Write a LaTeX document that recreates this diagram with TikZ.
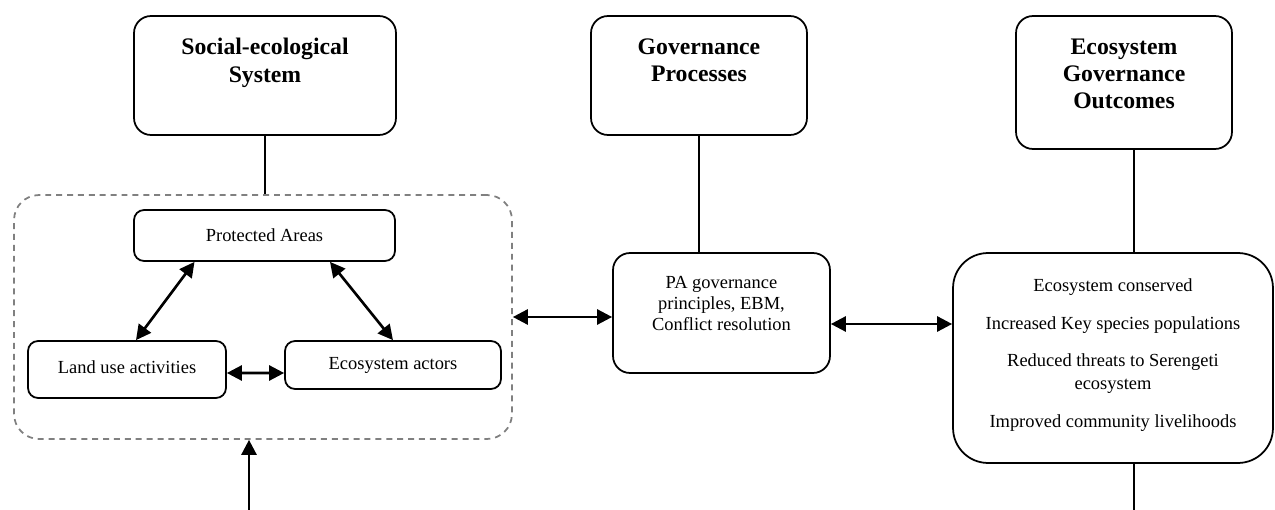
\documentclass[tikz,border=0pt]{standalone}
\usepackage{fontspec}
\setmainfont{Liberation Serif}
\usetikzlibrary{arrows.meta}
\tikzset{
  headbox/.style={draw, line width=1pt, rounded corners=0.34cm, inner sep=0pt},
  itembox/.style={draw, line width=1pt, rounded corners=0.2cm, inner sep=0pt, align=center, font=\fontsize{10.5}{12}\selectfont},
  groupbox/.style={draw=black!50, line width=1pt, dash pattern=on 3.4pt off 2.8pt, rounded corners=0.5cm},
  headtext/.style={anchor=north, inner sep=0pt, align=center, font=\fontsize{13.5}{15.5}\selectfont\bfseries},
  bodytext/.style={anchor=north, inner sep=0pt, align=center, font=\fontsize{10.5}{11.8}\selectfont},
  joint/.style={line width=1pt},
  twoway/.style={{Triangle[length=0.3cm,width=0.3cm]}-{Triangle[length=0.3cm,width=0.3cm]}, line width=1.5pt},
  oneway/.style={-{Triangle[length=0.3cm,width=0.3cm]}, line width=1.5pt}
}

\begin{document}
\begin{tikzpicture}[x=0.02cm, y=-0.02cm]
		%%%%% START %%%%%
		\useasboundingbox (0,0) rectangle (1275,510);
		
		% top row
		\node[headbox, minimum width=5.24cm, minimum height=2.38cm] (ses) at (265,75.5) {};
		\node[headtext] (sestxt) at ([yshift=-0.46cm]ses.north) {Social-ecological\\System};
		
		\node[headbox, minimum width=4.32cm, minimum height=2.38cm] (gov) at (699,75.5) {};
		\node[headtext] (govtxt) at ([yshift=-0.46cm]gov.north) {Governance\\Processes};
		
		\node[headbox, minimum width=4.32cm, minimum height=2.66cm] (out) at (1124,82.5) {};
		\node[headtext] (outtxt) at ([yshift=-0.46cm]out.north) {Ecosystem\\Governance\\Outcomes};
		
		% system group
		\node[groupbox, minimum width=9.96cm, minimum height=4.88cm] (grp) at (263,317) {};
		\node[itembox, minimum width=5.22cm, minimum height=1.02cm] (prot) at (264.5,235.5) {Protected Areas};
		\node[itembox, minimum width=3.96cm, minimum height=1.14cm] (land) at (127,369.5) {\raisebox{3pt}{Land use activities}};
		\node[itembox, minimum width=4.32cm, minimum height=0.96cm] (eco) at (393,365) {Ecosystem actors};
		
		\draw[twoway] ([xshift=-1.4cm]prot.south) -- ([xshift=0.18cm]land.north);
		\draw[twoway] ([xshift=1.31cm]prot.south) -- (eco.north);
		\draw[twoway] ([yshift=-0.07cm]land.east) -- ([yshift=-0.16cm]eco.west);
		
		% processes
		\node[headbox, minimum width=4.34cm, minimum height=2.4cm] (pag) at (721.5,313) {};
		\node[bodytext] (pagtxt) at ([yshift=-0.48cm]pag.north) {PA governance\\principles, EBM,\\Conflict resolution};
		
		% outcomes
		\node[headbox, rounded corners=0.7cm, minimum width=6.4cm, minimum height=4.2cm] (res) at (1113,358) {};
		\node[bodytext, font=\fontsize{10.5}{13}\selectfont] (restxt) at ([yshift=-0.52cm]res.north) {Ecosystem conserved\\[8.5pt]Increased Key species populations\\[8.5pt]Reduced threats to Serengeti\\ecosystem\\[8.5pt]Improved community livelihoods};
		
		% links
		\coordinate (link) at ([yshift=-0.22cm]pag.east);
		\coordinate (tail) at (1134,510);
		\coordinate (feed) at (249,510);
		
		\draw[joint] (ses.south) -- (ses.south |- grp.north);
		\draw[joint] (gov.south) -- (gov.south |- pag.north);
		\draw[joint] (tail |- out.south) -- (tail |- res.north);
		\draw[joint] (tail |- res.south) -- (tail);
		
		\draw[twoway] (grp.east) -- (grp.east -| pag.west);
		\draw[twoway] (link) -- (link -| res.west);
		\draw[oneway] (feed) -- (feed |- grp.south);
		
		%%%%% END %%%%%
\end{tikzpicture}
\end{document}
